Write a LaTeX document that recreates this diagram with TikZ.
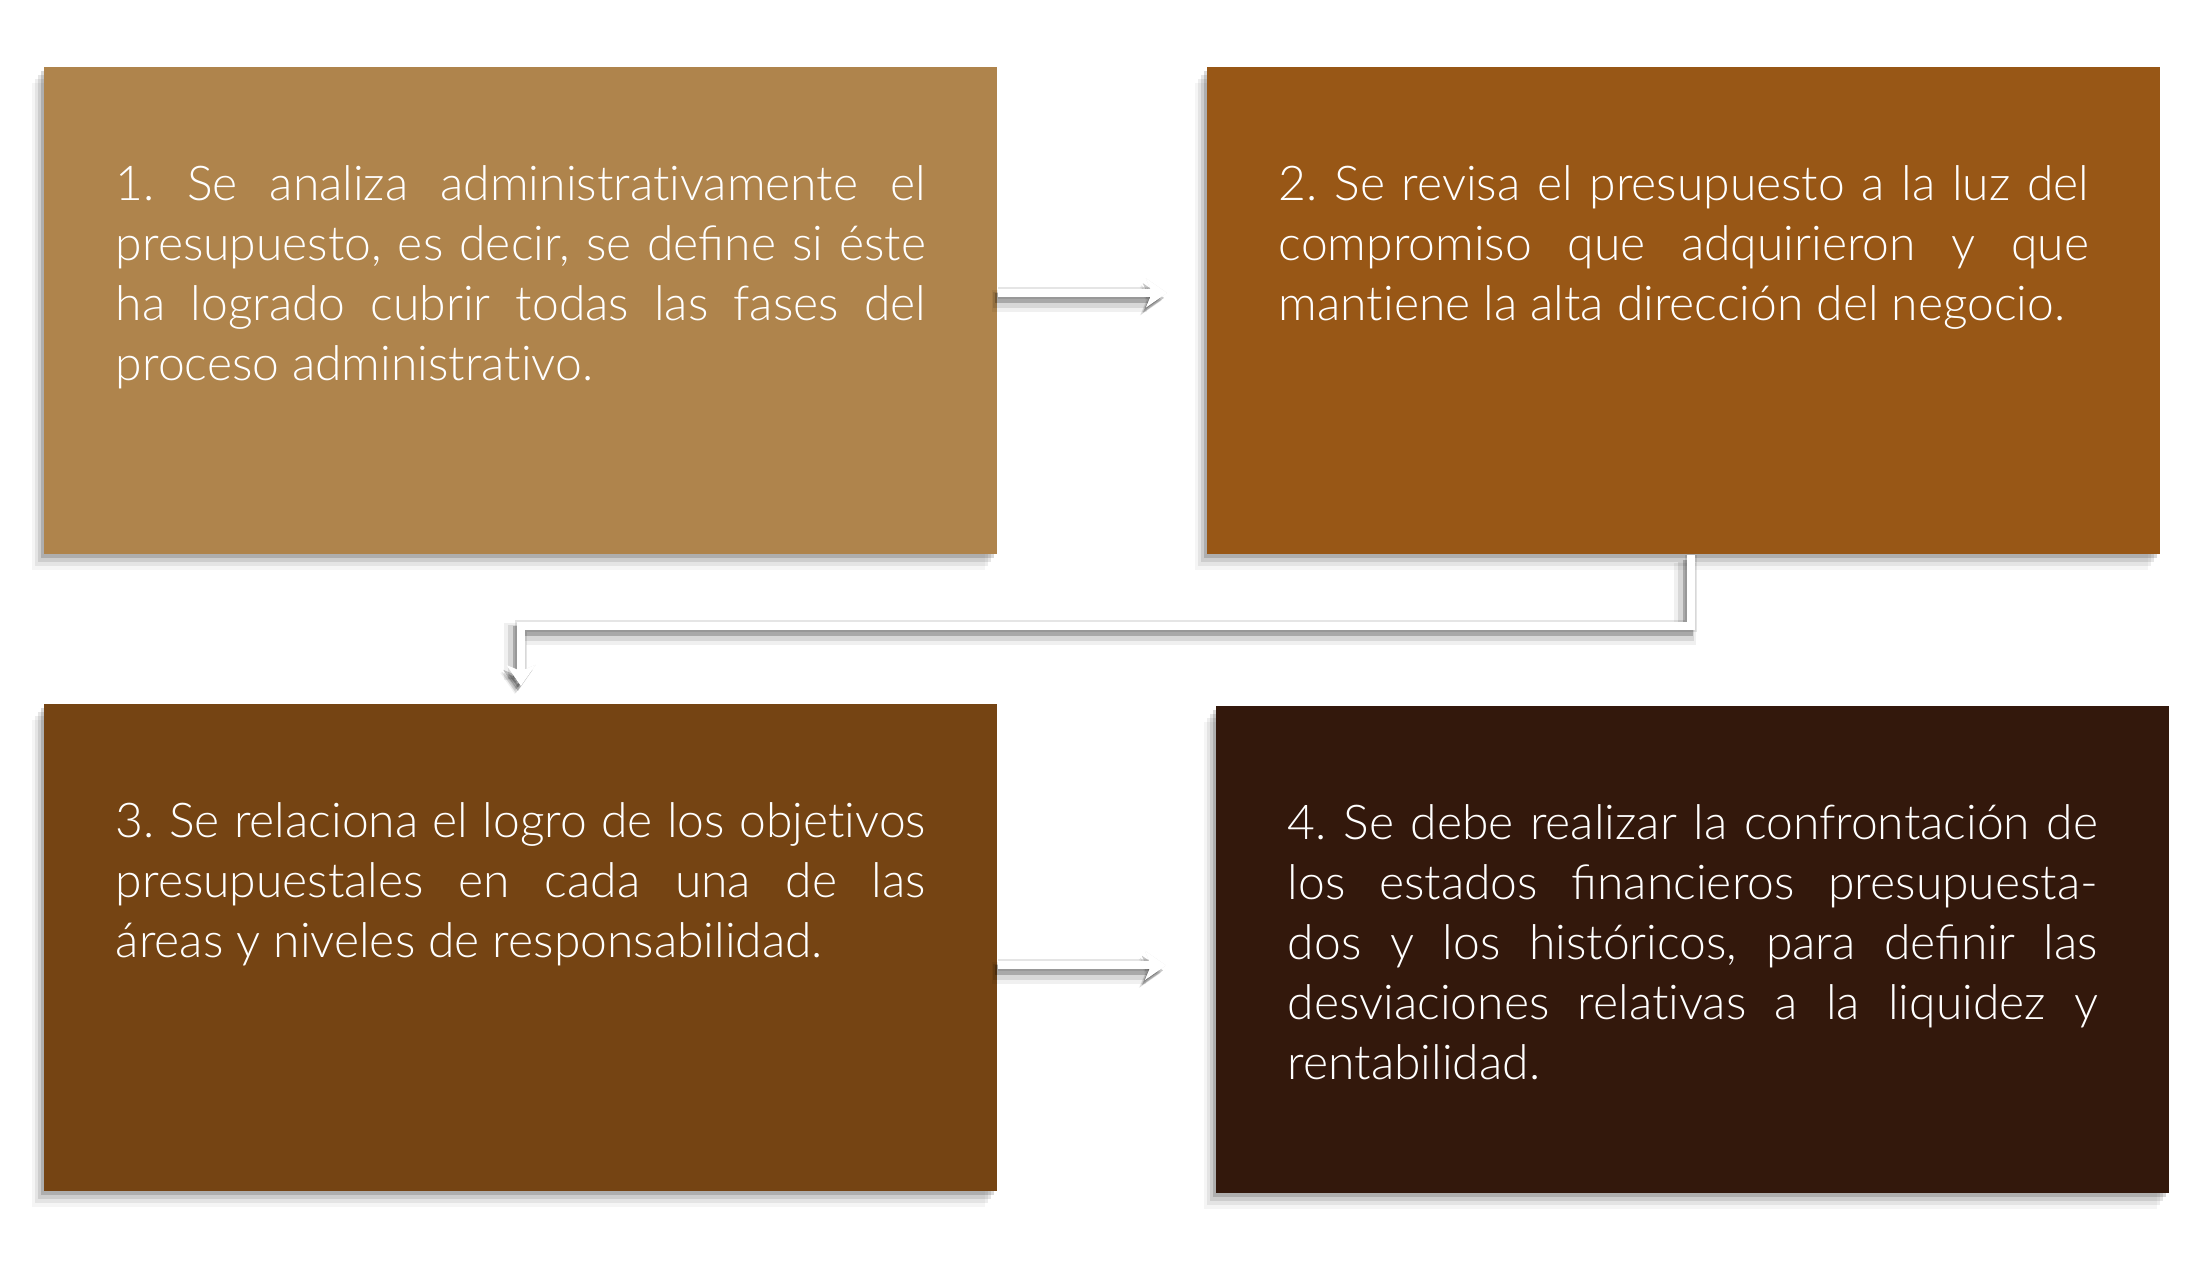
\documentclass[tikz,border=0pt]{standalone}
\usepackage{fontspec}
\setmainfont{Lato}[UprightFont=* Light]
\usepackage{tikz}
\usetikzlibrary{arrows.meta,shadows}

\definecolor{stepone}{HTML}{AF844C}
\definecolor{steptwo}{HTML}{985716}
\definecolor{stepthree}{HTML}{754413}
\definecolor{stepfour}{HTML}{33180C}

% keep "t" and "i" apart (no ti ligature)
\newcommand\tnolig{t\kern0pt }

\begin{document}
\frenchspacing
\begin{tikzpicture}[
  x=1pt,y=1pt,
  card/.style={fill=#1, anchor=north west,
    minimum width=476.5pt, minimum height=243.5pt,
    inner xsep=35.75pt, inner ysep=0pt,
    text width=405pt, align=justify, text=white,
    text height=66.5pt, text depth=177pt,
    font=\fontsize{24}{30}\selectfont,
    drop shadow={shadow xshift=-1.5pt,shadow yshift=-2pt,opacity=.15,fill=black},
    drop shadow={shadow xshift=-3pt,shadow yshift=-4pt,opacity=.10,fill=black},
    drop shadow={shadow xshift=-4.5pt,shadow yshift=-6pt,opacity=.07,fill=black},
    drop shadow={shadow xshift=-6pt,shadow yshift=-8pt,opacity=.04,fill=black}},
  flow/.style={draw=white, line width=4pt,
    -{Stealth[length=10.5pt,width=14.5pt,inset=3pt]},
    preaction={draw=black, opacity=.06, line width=11pt,
      transform canvas={xshift=-3pt,yshift=-4pt}},
    preaction={draw=black, opacity=.10, line width=8pt,
      transform canvas={xshift=-2.5pt,yshift=-3.5pt}},
    preaction={draw=black, opacity=.22, line width=5pt,
      transform canvas={xshift=-1.5pt,yshift=-2.5pt}},
    preaction={draw=black, opacity=.10, line width=6pt}},
]
\useasboundingbox (0,0) rectangle (1099,-630);

%--- the four steps -----------------------------------------------------
\node[card=stepone] (box1) at (22,-33.5)
  {1. Se analiza administra\tnolig ivamente el\linebreak
   presupuesto, es decir, se define si éste\linebreak
   ha logrado cubrir todas las fases del\linebreak
   proceso administra\tnolig ivo.};
\node[card=steptwo] (box2) at (603.5,-33.5)
  {2. Se revisa el presupuesto a la luz del\linebreak
   compromiso que adquirieron y que\linebreak
   man\tnolig iene la alta dirección del negocio.};
\node[card=stepthree] (box3) at (22,-352)
  {3. Se relaciona el logro de los obje\tnolig ivos\linebreak
   presupuestales en cada una de las\linebreak
   áreas y niveles de responsabilidad.};
\node[card=stepfour] (box4) at (608,-353)
  {4. Se debe realizar la confrontación de\linebreak
   los estados financieros presupuesta-\linebreak
   dos y los históricos, para definir las\linebreak
   desviaciones rela\tnolig ivas a la liquidez y\linebreak
   rentabilidad.};

%--- arrows between the steps -------------------------------------------
\draw[flow] ([yshift=9pt]box1.east) -- ([xshift=-20pt,yshift=9pt]box2.west);
\draw[flow] ([xshift=3.5pt]box2.south) -- ++(0,-35.5) -| ([yshift=9pt]box3.north);
\draw[flow] ([yshift=-8.75pt]box3.east) -- ([xshift=-25pt,yshift=-7.75pt]box4.west);

\end{tikzpicture}
\end{document}
